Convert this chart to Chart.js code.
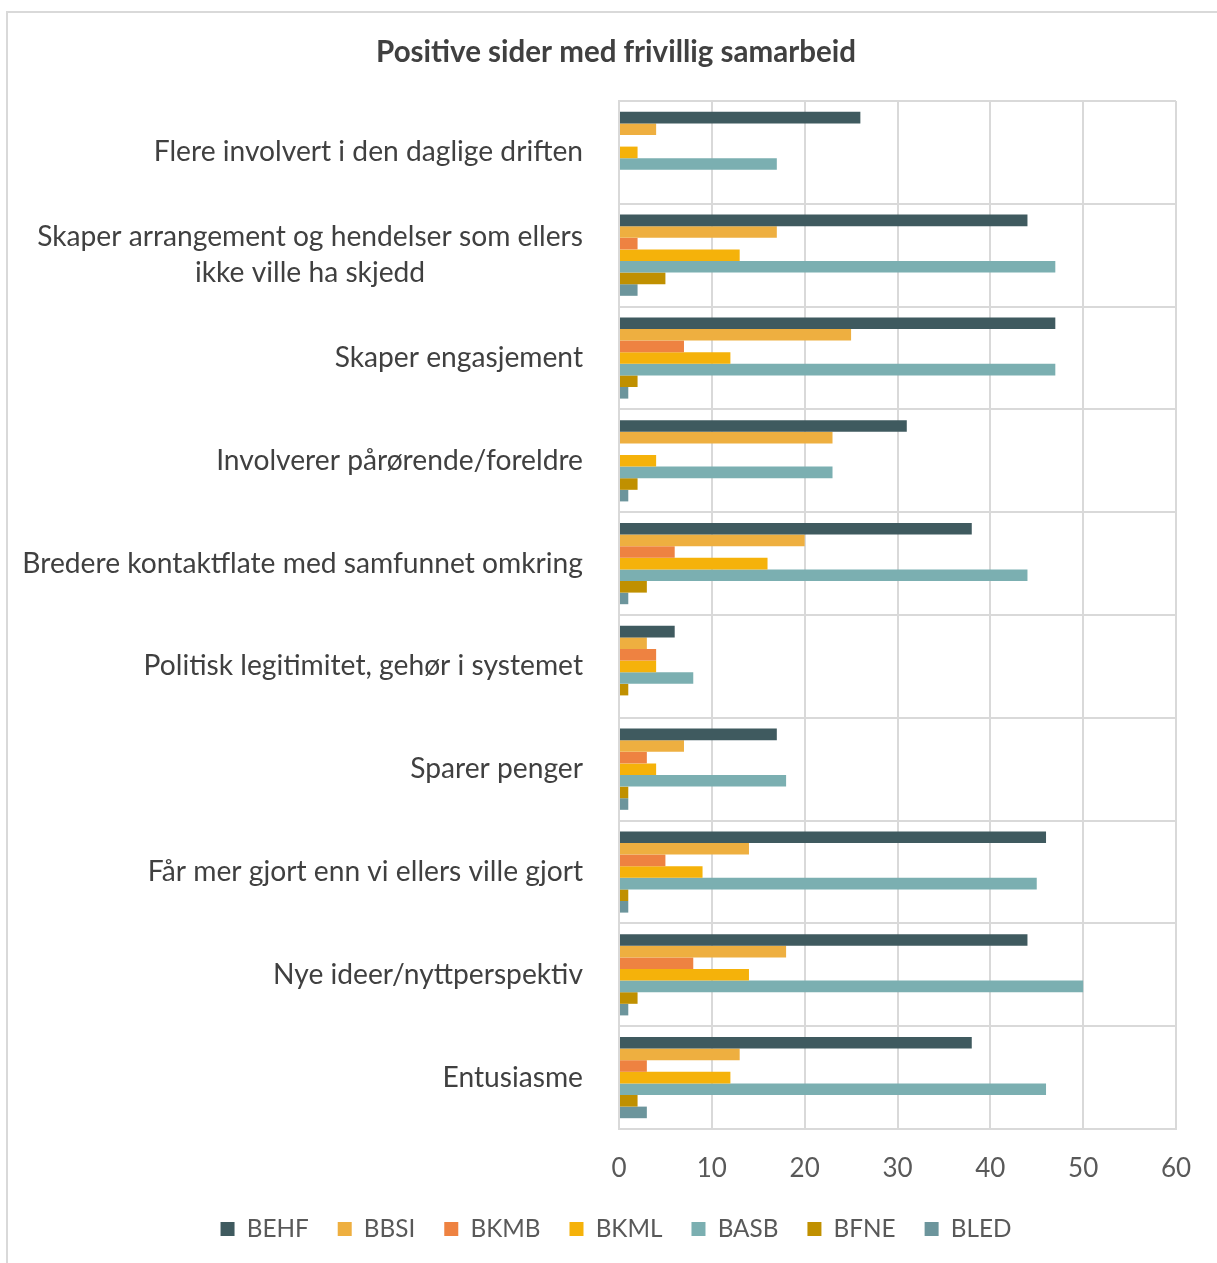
<!DOCTYPE html>
<html><head><meta charset="utf-8">
<script src="https://cdn.jsdelivr.net/npm/chart.js@4.4.1/dist/chart.umd.min.js"></script>
<style>
html,body{margin:0;padding:0;background:#fff;overflow:hidden;width:1217px;height:1263px}
#frame{position:absolute;left:6px;top:11px;width:1400px;height:1400px;border-left:2px solid #d9d9d9;border-top:2px solid #d9d9d9;box-sizing:border-box}
#wrap{position:absolute;left:0;top:0;width:1217px;height:1263px}
</style></head><body>
<div id="frame"></div>
<div id="wrap"><canvas id="c"></canvas></div>
<script>
const title = 'Positive sider med frivillig samarbeid';
const categories = [
  'Flere involvert i den daglige driften',
  ['Skaper arrangement og hendelser som ellers', 'ikke ville ha skjedd'],
  'Skaper engasjement',
  'Involverer pårørende/foreldre',
  'Bredere kontaktflate med samfunnet omkring',
  'Politisk legitimitet, gehør i systemet',
  'Sparer penger',
  'Får mer gjort enn vi ellers ville gjort',
  'Nye ideer/nyttperspektiv',
  'Entusiasme'
];
const seriesNames = ['BEHF', 'BBSI', 'BKMB', 'BKML', 'BASB', 'BFNE', 'BLED'];
const BEHF = [26, 44, 47, 31, 38, 6, 17, 46, 44, 38];
const BBSI = [4, 17, 25, 23, 20, 3, 7, 14, 18, 13];
const BKMB = [0, 2, 7, 0, 6, 4, 3, 5, 8, 3];
const BKML = [2, 13, 12, 4, 16, 4, 4, 9, 14, 12];
const BASB = [17, 47, 47, 23, 44, 8, 18, 45, 50, 46];
const BFNE = [0, 5, 2, 2, 3, 1, 1, 1, 2, 2];
const BLED = [0, 2, 1, 1, 1, 0, 1, 1, 1, 3];
const xTicks = [0, 10, 20, 30, 40, 50, 60];

const seriesValues = [BEHF, BBSI, BKMB, BKML, BASB, BFNE, BLED];
const colors = ['#3F5A5F', '#EEAF40', '#EE8241', '#F5B20A', '#7BAFB1', '#C09000', '#6C959C'];

const FONT = 'Lato';
const mctx = document.createElement('canvas').getContext('2d');
function textW(t, size, weight) { mctx.font = (weight || '') + ' ' + size + 'px ' + FONT; return mctx.measureText(t).width; }

// fit sizes to reference text widths
const catSize = 28 * 561 / textW('Bredere kontaktflate med samfunnet omkring', 28);
const titleSize = 24 * 480 / textW(title, 24, 'bold');
const legW24 = seriesNames.reduce((s, n) => s + textW(n, 24), 0);
const legPad = 29;
let legSize = 518 / (legW24 / 24 + 3.5);
legSize = Math.round(legSize * 10) / 10;

const chartTop = 101, chartBottom = 1129, chartLeft = 619, chartRight = 1176;
const padL = 56, padR = 1217 - chartRight;
const titleLH = titleSize * 1.2;
const titlePadTop = 52 - titleLH / 2;
const titlePadBottom = chartTop - titlePadTop - titleLH;
const tickSize = 26;
const tickLH = tickSize * 1.2;
const tickPad = 1169 - chartBottom - tickLH / 2;
const legendTop = 1229 - legPad - legSize / 2;
const xAxisH = legendTop - chartBottom;
const legendH = legSize + legPad + 10;
const padB = 1263 - legendTop - legendH;

const yLabelPlugin = {
  id: 'yLabels',
  afterDraw(chart) {
    const ctx = chart.ctx, ys = chart.scales.y;
    const rightX = chart.chartArea.left - 36;
    const lh = 36;
    ctx.save();
    ctx.font = catSize + 'px ' + FONT;
    ctx.fillStyle = '#404040';
    ctx.textBaseline = 'middle';
    categories.forEach((lab, i) => {
      const lines = Array.isArray(lab) ? lab : [lab];
      const y = ys.getPixelForValue(i);
      const widest = Math.max(...lines.map(l => ctx.measureText(l).width));
      lines.forEach((l, k) => {
        const ly = y + (k - (lines.length - 1) / 2) * lh;
        if (lines.length > 1) { ctx.textAlign = 'center'; ctx.fillText(l, rightX - widest / 2, ly); }
        else { ctx.textAlign = 'right'; ctx.fillText(l, rightX, ly); }
      });
    });
    ctx.restore();
  }
};

new Chart(document.getElementById('c'), {
  type: 'bar',
  data: {
    labels: categories,
    datasets: seriesNames.map((n, i) => ({
      label: n,
      data: seriesValues[i],
      backgroundColor: colors[i],
      borderWidth: 0,
      categoryPercentage: 0.79,
      barPercentage: 1.0
    }))
  },
  options: {
    indexAxis: 'y',
    responsive: true,
    maintainAspectRatio: false,
    animation: false,
    devicePixelRatio: 1,
    layout: { padding: { left: padL, right: padR, top: 0, bottom: padB } },
    scales: {
      x: {
        min: 0, max: 60,
        afterBuildTicks(scale) { scale.ticks = xTicks.map(v => ({ value: v })); },
        afterFit(scale) { scale.height = xAxisH; },
        ticks: { font: { family: FONT, size: tickSize, lineHeight: 1.2 }, color: '#595959', padding: tickPad },
        grid: { color: '#d9d9d9', lineWidth: 2, drawTicks: false },
        border: { display: true, color: '#d9d9d9', width: 2 }
      },
      y: {
        ticks: { display: false },
        afterFit(scale) { scale.width = chartLeft - padL; },
        grid: { color: '#d9d9d9', lineWidth: 2, drawTicks: false, offset: true },
        border: { display: true, color: '#d9d9d9', width: 2 }
      }
    },
    plugins: {
      title: {
        display: true, text: title, color: '#404040',
        font: { family: FONT, size: titleSize, weight: 'bold' },
        padding: { top: titlePadTop, bottom: titlePadBottom }
      },
      legend: {
        position: 'bottom',
        labels: {
          boxWidth: 14, boxHeight: 14, padding: legPad,
          color: '#595959', font: { family: FONT, size: legSize }
        }
      },
      tooltip: { enabled: false }
    }
  },
  plugins: [yLabelPlugin]
});
</script>
</body></html>
